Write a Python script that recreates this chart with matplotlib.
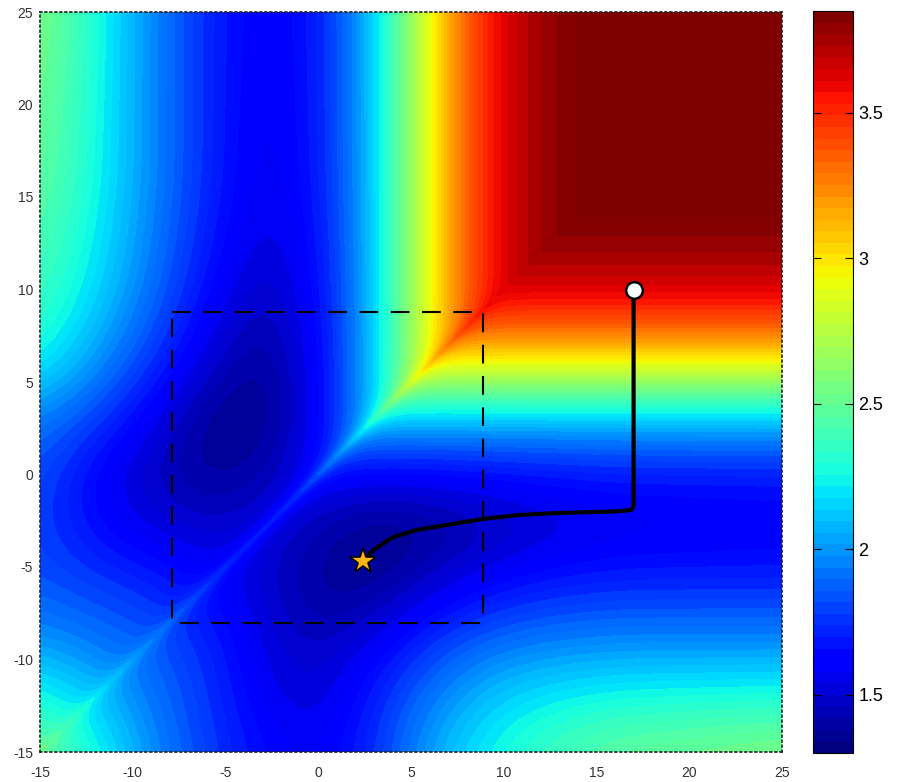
import numpy as np
import matplotlib
matplotlib.use('Agg')
import matplotlib.pyplot as plt
from matplotlib.colors import ListedColormap, Normalize
import matplotlib.cm as cm

# ---------------- data ----------------
# value far from the diagonal as a function of the smaller coordinate u = min(x, y)
g_pos = [-15, -13, -11, -9, -7, -5, -3, -1, 1, 2, 3, 4, 5, 6, 7, 8, 9, 10, 11, 12, 13, 14, 25]
g_val = [2.60, 2.38, 2.17, 1.96, 1.78, 1.63, 1.55, 1.57, 1.72, 1.88, 2.08, 2.35, 2.66, 2.92,
         3.17, 3.40, 3.56, 3.66, 3.73, 3.78, 3.815, 3.86, 4.20]

# deviation from that profile, D(u, v) with u = min(x, y), v = max(x, y)
dev_u = [-15, -12, -9, -6, -3, 0, 3]
dev_v = [-15, -12, -9, -6, -3, 0, 3, 6, 9, 12, 16, 25]
dev_u_m15 = [-0.05, -0.32, -0.62, -0.80, -0.90, -0.92, -0.78, -0.45, -0.30, -0.20, -0.10, 0.0]
dev_u_m12 = [None, -0.15, -0.37, -0.52, -0.69, -0.75, -0.55, -0.32, -0.15, -0.07, -0.02, 0.0]
dev_u_m9 = [None, None, -0.11, -0.24, -0.44, -0.53, -0.41, -0.22, -0.09, -0.03, 0.0, 0.0]
dev_u_m6 = [None, None, None, -0.10, -0.22, -0.37, -0.38, -0.22, -0.11, -0.04, 0.0, 0.0]
dev_u_m3 = [None, None, None, None, -0.04, -0.15, -0.26, -0.23, -0.15, -0.08, -0.03, 0.0]
dev_u_0 = [None, None, None, None, None, -0.07, -0.09, -0.08, -0.06, -0.04, -0.01, 0.0]
dev_u_3 = [None, None, None, None, None, None, 0.0, 0.0, 0.0, 0.0, 0.0, 0.0]

# difference between the upper-left (+) and lower-right (-) halves
asym_u_m15 = [0.0, 0.0, 0.01, 0.03, 0.08, 0.15, 0.10, 0.12, 0.07, 0.03, 0.0, 0.0]
asym_u_m12 = [None, 0.0, 0.0, 0.01, 0.03, 0.04, 0.04, 0.03, 0.01, 0.0, 0.0, 0.0]
asym_u_m9 = [None, None, 0.0, 0.0, 0.0, 0.0, 0.0, 0.0, 0.0, 0.0, 0.0, 0.0]
asym_u_m6 = [None, None, None, 0.0, 0.0, 0.0, 0.0, 0.0, 0.0, 0.0, 0.0, 0.0]
asym_u_m3 = [None, None, None, None, 0.0, 0.0, 0.0, 0.0, 0.0, 0.0, 0.0, 0.0]
asym_u_0 = [None, None, None, None, None, 0.0, 0.0, 0.0, 0.0, 0.0, 0.0, 0.0]
asym_u_3 = [None, None, None, None, None, None, 0.0, 0.0, 0.0, 0.0, 0.0, 0.0]

# thin ridge along the diagonal x = y
ridge_u = [-15, -10, -5, 0, 5, 8, 10, 25]
ridge_h = [0.10, 0.12, 0.15, 0.20, 0.20, 0.14, 0.0, 0.0]

# trajectory, start and end points, dashed box
path_x = [17.0, 17.0, 16.9, 16.6, 15.9, 14.0, 12.5, 10.7, 8.9, 7.1, 5.3, 4.0, 2.95, 2.4]
path_y = [10.0, -1.7, -1.9, -1.95, -2.0, -2.05, -2.1, -2.2, -2.4, -2.7, -3.0, -3.4, -4.1, -4.7]
start_pt = (17.0, 10.0)
end_pt = (2.4, -4.7)
box_x = [-7.9, 8.9]
box_y = [-8.0, 8.8]

x_ticks = [-15, -10, -5, 0, 5, 10, 15, 20, 25]
y_ticks = [-15, -10, -5, 0, 5, 10, 15, 20, 25]
cb_ticks = [1.5, 2, 2.5, 3, 3.5]
vmin, vmax = 1.30, 3.85

# ---------------- build the field ----------------
N = 401
grid = np.linspace(-15, 25, N)
step = grid[1] - grid[0]


def gsmooth(a, sigma, axis):
    r = int(3 * sigma)
    k = np.exp(-0.5 * (np.arange(-r, r + 1) / sigma) ** 2)
    k /= k.sum()
    pad = [(0, 0), (0, 0)]
    pad[axis] = (r, r)
    ap = np.pad(a, pad, mode='edge')
    return np.apply_along_axis(lambda m: np.convolve(m, k, mode='valid'), axis, ap)


def smooth2(a, sigma_units):
    s = sigma_units / step
    return gsmooth(gsmooth(a, s, 0), s, 1)


def fill_rows(rows):
    tab = []
    for r in rows:
        first = next(v for v in r if v is not None)
        tab.append([first if v is None else v for v in r])
    return np.array(tab)


def bilinear(tab):
    tmp = np.array([np.interp(grid, dev_v, tab[i]) for i in range(len(dev_u))])
    return np.array([np.interp(grid, dev_u, tmp[:, j]) for j in range(N)]).T


def reflect_below_diagonal(a):
    # continue each row linearly across v = u (odd reflection), so smoothing keeps the crease clean
    out = a.copy()
    for i in range(N):
        j = np.arange(i)
        jm = np.minimum(2 * i - j, N - 1)
        out[i, j] = 2 * a[i, i] - a[i, jm]
    return out


g_fine = np.interp(grid, g_pos, g_val)
dev_tab = fill_rows([dev_u_m15, dev_u_m12, dev_u_m9, dev_u_m6, dev_u_m3, dev_u_0, dev_u_3])
val_tab = np.interp(dev_u, g_pos, g_val)[:, None] + dev_tab
G_low = bilinear(val_tab)
G = np.where((grid <= dev_u[-1])[:, None], G_low, g_fine[:, None] * np.ones((1, N)))
G = smooth2(reflect_below_diagonal(G), 1.4)

A = bilinear(fill_rows([asym_u_m15, asym_u_m12, asym_u_m9, asym_u_m6, asym_u_m3,
                        asym_u_0, asym_u_3]))
A = smooth2(reflect_below_diagonal(A), 1.8)
R = np.interp(grid, ridge_u, ridge_h)

ix = np.arange(N)
IX, IY = np.meshgrid(ix, ix)
iu = np.minimum(IX, IY)
iv = np.maximum(IX, IY)
dist = grid[iv] - grid[iu]
side = np.where(IY > IX, 1.0, -1.0)
Z = (G[iu, iv] + R[iu] * np.exp(-dist / 0.55)
     + side * A[iu, iv] * (1 - np.exp(-dist / 1.5)))
X, Y = np.meshgrid(grid, grid)

# ---------------- draw ----------------
fig = plt.figure(figsize=(8.98, 7.82), dpi=100)
ax = fig.add_axes([40 / 898, 1 - 752 / 782, 742 / 898, 740 / 782])
cax = fig.add_axes([813 / 898, 1 - 753 / 782, 40 / 898, 742 / 782])

jet64 = ListedColormap(plt.get_cmap('jet')(np.linspace(0, 1, 64)))
levels = np.linspace(vmin, vmax, 65)
ax.contourf(X, Y, Z, levels=levels, cmap='jet', extend='both', antialiased=False)

ax.plot([box_x[0], box_x[1], box_x[1], box_x[0], box_x[0]],
        [box_y[1], box_y[1], box_y[0], box_y[0], box_y[1]],
        color='black', lw=1.5, dashes=(9, 6))
ax.plot(path_x, path_y, color='black', lw=3, solid_capstyle='round', solid_joinstyle='round')
ax.plot(*start_pt, marker='o', ms=12, mfc='white', mec='black', mew=1.8, zorder=5)
ax.plot(*end_pt, marker='*', ms=19, mfc='#FDB515', mec='black', mew=1.2, zorder=5)

ax.set_xlim(-15, 25)
ax.set_ylim(-15, 25)
ax.set_xticks(x_ticks)
ax.set_yticks(y_ticks)
ax.set_xticklabels([str(t) for t in x_ticks])
ax.set_yticklabels([str(t) for t in y_ticks])
ax.tick_params(length=0, labelsize=10, labelcolor='#333333')
ax.tick_params(axis='x', pad=10)
ax.tick_params(axis='y', pad=5)
for lab in ax.get_xticklabels() + ax.get_yticklabels():
    lab.set_family('Liberation Sans')
for s in ax.spines.values():
    s.set_linestyle((0, (1, 2)))
    s.set_linewidth(1.2)
    s.set_color('#222222')

sm = cm.ScalarMappable(norm=Normalize(vmin, vmax), cmap=jet64)
cb = fig.colorbar(sm, cax=cax, ticks=cb_ticks)
cb.ax.set_yticklabels(['1.5', '2', '2.5', '3', '3.5'])
cax.tick_params(direction='in', length=6, width=0.8, left=True, right=True,
                labelleft=False, labelright=True, labelsize=13, pad=4)
for lab in cax.get_yticklabels():
    lab.set_family('Liberation Sans')
cb.outline.set_linewidth(0.8)

fig.savefig('out.png', dpi=100)
